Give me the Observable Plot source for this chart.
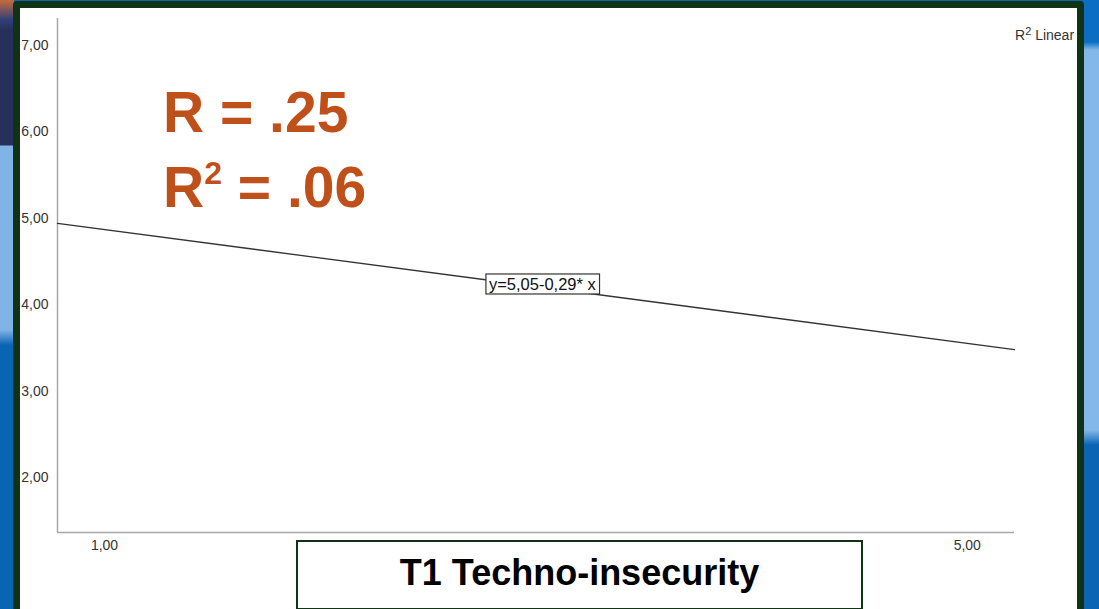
<!DOCTYPE html>
<html>
<head>
<meta charset="utf-8">
<script src="https://cdn.jsdelivr.net/npm/d3@7"></script>
<script src="https://cdn.jsdelivr.net/npm/@observablehq/plot@0.6"></script>
<style>
  html, body { margin: 0; padding: 0; width: 1099px; height: 609px; overflow: hidden; }
  body { position: relative; font-family: "Liberation Sans", Arial, sans-serif; background: #0b66b6; }
  #leftbg { position: absolute; left: 0; top: 0; width: 14px; height: 609px;
    background: linear-gradient(to bottom, #c86a3a 0px, #2f3f7a 20px, #26305a 30px, #26305a 145px, #80b4e6 146px, #80b4e6 330px, #0a64b4 345px, #0a64b4 609px); }
  #rightbg { position: absolute; right: 0; top: 0; width: 16px; height: 609px;
    background: linear-gradient(to bottom, #0b6ec2 0px, #0b6ec2 42px, #84b8ea 50px, #84b8ea 430px, #0b64b4 445px, #0b64b4 609px); }
  #frame { position: absolute; left: 13px; top: 1px; width: 1057px; height: 602px;
    border: 7px solid #0f3314; border-bottom-width: 8px; border-radius: 4px; background: #ffffff; overflow: hidden; }
  #plot { position: absolute; left: 0; top: 0; }
  #legend { position: absolute; left: 995px; top: 19px; font-size: 14px; color: #333; white-space: nowrap; }
  #legend sup { font-size: 11px; vertical-align: 5px; line-height: 0; }
  .rtext { position: absolute; left: 143px; font-weight: bold; font-size: 57px; color: #c0501a; white-space: nowrap; line-height: 1; }
  .rtext sup { font-size: 32px; vertical-align: 23px; line-height: 0; }
  #r1 { top: 76px; }
  #r2 { top: 151px; }
  #title { position: absolute; left: 276px; top: 532px; width: 567px; height: 70px; border: 2px solid #0f3314; box-sizing: border-box;
    background: #fff; text-align: center; font-weight: bold; font-size: 36px; line-height: 62px; color: #000; }
</style>
</head>
<body>
<div id="leftbg"></div>
<div id="rightbg"></div>
<div id="frame">
  <div id="plot"></div>
  <div id="legend">R<sup>2</sup> Linear</div>
  <div class="rtext" id="r1">R = .25</div>
  <div class="rtext" id="r2">R<sup>2</sup> = .06</div>
  <div id="title">T1 Techno-insecurity</div>
</div>
<script>
// Axis extents and ticks
const xDomain = [0.782, 5.219];
const yDomain = [1.364, 7.309];
const xTicks = [1, 5];
const yTicks = [2, 3, 4, 5, 6, 7];

// Fit line end points
const lineX = [0.782, 5.219];
const lineY = [4.94, 3.48];

// Equation label
const eqX = [3.03];
const eqY = [4.23];
const eqText = ["y=5,05-0,29* x"];

const fmt = d => d.toFixed(2).replace(".", ",");
const lineData = lineX.map((x, i) => ({x, y: lineY[i]}));
const eqData = eqX.map((x, i) => ({x, y: eqY[i], t: eqText[i]}));

const chart = Plot.plot({
  width: 1057,
  height: 595,
  marginLeft: 37,
  marginRight: 63,
  marginTop: 10,
  marginBottom: 71,
  style: {fontFamily: "'Liberation Sans', Arial, sans-serif", fontSize: "14px", color: "#333", background: "transparent"},
  x: {domain: xDomain, ticks: xTicks, tickFormat: fmt, tickSize: 0, tickPadding: 8, label: null},
  y: {domain: yDomain, ticks: yTicks, tickFormat: fmt, tickSize: 0, tickPadding: 9, label: null},
  marks: [
    Plot.ruleX([xDomain[0]], {stroke: "#a8a8a8", strokeWidth: 1.5}),
    Plot.ruleY([yDomain[0]], {stroke: "#a8a8a8", strokeWidth: 1.5}),
    Plot.line(lineData, {x: "x", y: "y", stroke: "#333", strokeWidth: 1.3}),
    Plot.text(eqData, {x: "x", y: "y", text: "t", fontSize: 16.5, fill: "#111"})
  ]
});
document.getElementById("plot").appendChild(chart);

// draw a box behind the equation label
const texts = chart.querySelectorAll('g[aria-label="text"] text');
texts.forEach(t => {
  const b = t.getBBox();
  const rect = document.createElementNS("http://www.w3.org/2000/svg", "rect");
  rect.setAttribute("x", b.x - 3);
  rect.setAttribute("y", b.y - 1);
  rect.setAttribute("width", b.width + 6);
  rect.setAttribute("height", b.height + 2);
  rect.setAttribute("fill", "#fff");
  rect.setAttribute("stroke", "#333");
  rect.setAttribute("stroke-width", "1.2");
  if (t.getAttribute("transform")) rect.setAttribute("transform", t.getAttribute("transform"));
  t.parentNode.insertBefore(rect, t);
});
</script>
</body>
</html>
